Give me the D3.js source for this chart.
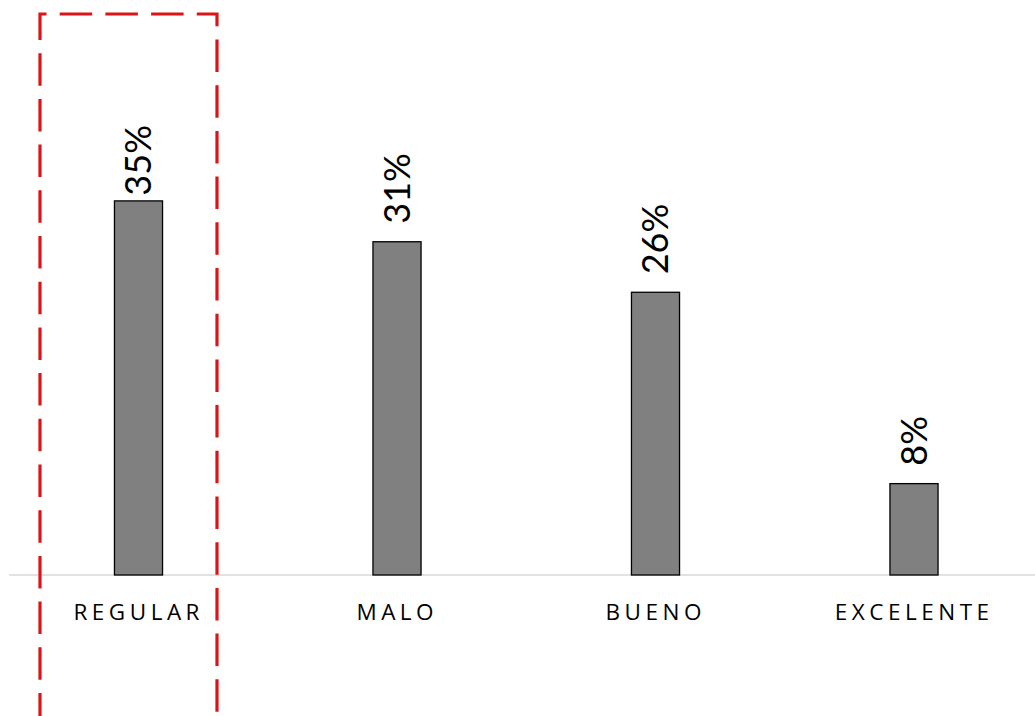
<!DOCTYPE html>
<html><head><meta charset="utf-8">
<script src="https://cdn.jsdelivr.net/npm/d3@7"></script>
<style>html,body{margin:0;padding:0;background:#fff;}svg{display:block;}</style>
</head><body>
<svg id="chart" width="1035" height="716"></svg>
<script>
const categories = ["REGULAR", "MALO", "BUENO", "EXCELENTE"];
const values = [34.8, 31.0, 26.3, 8.5];
const valueLabels = ["35%", "31%", "26%", "8%"];
const highlighted = ["REGULAR"];

const W = 1035, H = 716;
const svg = d3.select("#chart");
const baseY = 575;

const x = d3.scaleBand().domain(categories).range([9.25, 1043.25]).paddingInner(0.814).paddingOuter(0.407);
const y = d3.scaleLinear().domain([0, 40]).range([baseY, baseY - 430]);

// baseline
svg.append("line").attr("x1", 9).attr("x2", W).attr("y1", baseY).attr("y2", baseY)
  .attr("stroke", "#d9d9d9").attr("stroke-width", 1.5);

// bars
svg.selectAll("rect.bar").data(categories).join("rect").attr("class", "bar")
  .attr("x", d => x(d)).attr("width", x.bandwidth())
  .attr("y", (d, i) => y(values[i])).attr("height", (d, i) => y(0) - y(values[i]))
  .attr("fill", "#808080").attr("stroke", "#000").attr("stroke-width", 1.3);

// value labels (rotated), kept inside the plot top
const labelGap = 18, labelTopLimit = 125;
svg.selectAll("text.val").data(categories).join("text").attr("class", "val")
  .attr("dy", "0.36em")
  .attr("font-family", "Lato, 'Open Sans', sans-serif").attr("font-size", 36)
  .attr("fill", "#000").text((d, i) => valueLabels[i])
  .each(function (d, i) {
    const len = this.getComputedTextLength();
    let end = y(values[i]) - labelGap;
    if (end - len < labelTopLimit) end = labelTopLimit + len;
    d3.select(this).attr("transform", `translate(${x(d) + x.bandwidth() / 2},${end}) rotate(-90)`);
  });

// category labels
const sp = 4.5;
svg.selectAll("text.cat").data(categories).join("text").attr("class", "cat")
  .attr("y", 620)
  .attr("font-family", "'Open Sans', sans-serif").attr("font-size", 22.5)
  .attr("letter-spacing", sp + "px")
  .attr("fill", "#000").text(d => d)
  .each(function (d) {
    const w = this.getComputedTextLength() - sp;
    const cx = x(d) + x.bandwidth() / 2 - 2;
    d3.select(this).attr("x", cx - w / 2);
  });

// highlight dashed box
highlighted.forEach(c => {
  const cx = x(c) + x.bandwidth() / 2;
  const left = cx - 98.5, right = cx + 78.5, top = 14, bottom = 760;
  const L = bottom - top;
  const period = 45.7;
  const off = (((26 - L) % period) + period) % period;
  svg.append("path")
    .attr("d", `M${left},${bottom} V${top} H${right} V${bottom}`)
    .attr("fill", "none").attr("stroke", "#dc1418").attr("stroke-width", 3.2)
    .attr("stroke-dasharray", "32.5 13.2")
    .attr("stroke-dashoffset", off);
});
</script>
</body></html>
